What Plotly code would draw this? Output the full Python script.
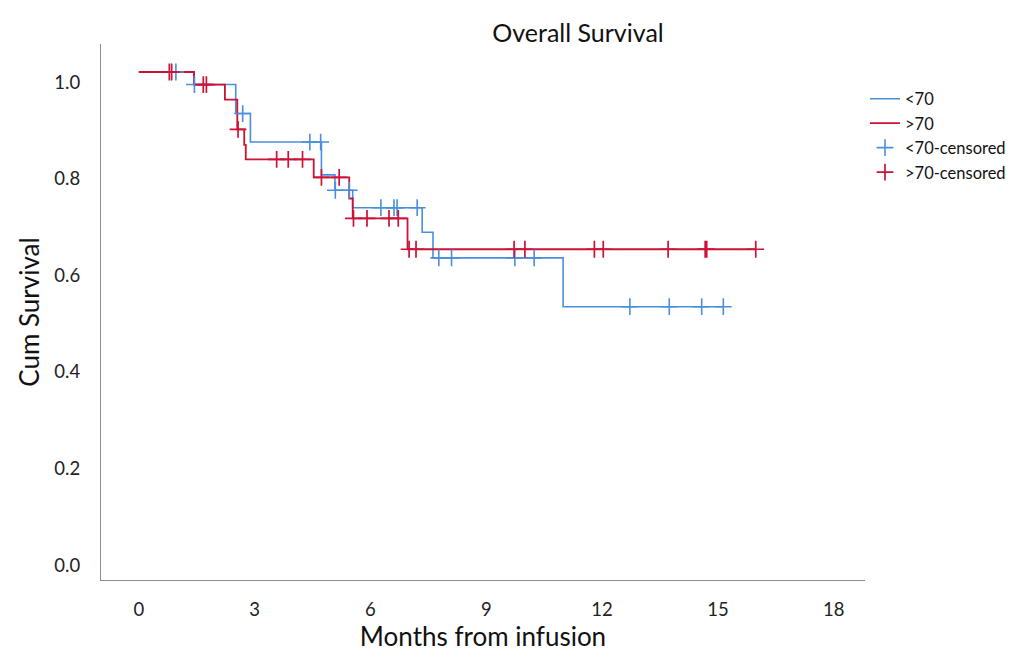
import numpy as np
import plotly.graph_objects as go

# ---- data ----
blue_name = "<70"
red_name = ">70"
blue_t = [0, 1.43, 2.51, 2.89, 4.73, 5.08, 5.54, 7.34, 7.62, 10.99, 15.14]
blue_s = [1.021, 0.995, 0.935, 0.876, 0.808, 0.776, 0.740, 0.689, 0.636, 0.535, 0.535]
blue_cens = [0.96, 1.44, 2.69, 4.43, 4.71, 5.09, 5.45, 6.27, 6.61, 6.69, 7.21,
             7.77, 8.10, 9.74, 10.24, 12.72, 13.74, 14.58, 15.14]

red_t = [0, 1.43, 2.23, 2.55, 2.73, 2.77, 4.53, 5.45, 5.54, 6.96, 15.98]
red_s = [1.021, 0.995, 0.964, 0.902, 0.870, 0.840, 0.803, 0.759, 0.718, 0.654, 0.654]
red_cens = [0.79, 0.85, 1.67, 1.75, 2.57, 3.57, 3.87, 4.24, 4.73, 5.19, 5.56, 5.91,
            6.48, 6.72, 7.00, 7.18, 9.72, 10.00, 11.80, 12.03, 13.71, 14.67, 14.71, 15.98]

x_ticks = [0, 3, 6, 9, 12, 15, 18]
y_ticks = [0.0, 0.2, 0.4, 0.6, 0.8, 1.0]
y_tick_labels = ["0.0", "0.2", "0.4", "0.6", "0.8", "1.0"]

BLUE = "#4a8fdc"
RED = "#cc1236"
FONT = "Lato"

W, H = 1008, 655  # page body has an 8px margin


def surv_at(times, surv, t):
    idx = np.searchsorted(np.array(times), t, side="right") - 1
    return [surv[i] for i in idx]


fig = go.Figure()
fig.add_trace(go.Scatter(x=blue_t, y=blue_s, mode="lines", line_shape="hv",
                         line=dict(color=BLUE, width=1.6), name=blue_name))
fig.add_trace(go.Scatter(x=red_t, y=red_s, mode="lines", line_shape="hv",
                         line=dict(color=RED, width=1.8), name=red_name))
fig.add_trace(go.Scatter(x=blue_cens, y=surv_at(blue_t, blue_s, blue_cens), mode="markers",
                         marker=dict(symbol="cross-thin", size=12,
                                     line=dict(color=BLUE, width=1.6)),
                         name=blue_name + "-censored"))
fig.add_trace(go.Scatter(x=red_cens, y=surv_at(red_t, red_s, red_cens), mode="markers",
                         marker=dict(symbol="cross-thin", size=12,
                                     line=dict(color=RED, width=1.7)),
                         name=red_name + "-censored"))

fig.update_layout(
    width=W, height=H,
    paper_bgcolor="white", plot_bgcolor="white",
    margin=dict(l=93, r=151, t=36, b=83, autoexpand=False),
    font=dict(family=FONT, color="#222"),
    title=dict(text="Overall Survival", x=570 / W, xanchor="center",
               y=1 - 25 / H, yanchor="middle", yref="container",
               font=dict(size=25, color="#111", family=FONT)),
    showlegend=True,
    legend=dict(x=1.0, y=0.93, xanchor="left", yanchor="top",
                font=dict(size=16.5, color="#111", family=FONT),
                bgcolor="rgba(0,0,0,0)", tracegroupgap=0, itemwidth=30),
    xaxis=dict(range=[-0.98, 18.81], tickvals=x_ticks, showgrid=False, zeroline=False,
               showline=True, linecolor="#8c8c8c", linewidth=1.3,
               ticks="outside", ticklen=13, tickcolor="rgba(0,0,0,0)",
               tickfont=dict(size=18.5, color="#222", family=FONT),
               title=dict(text="Months from infusion", standoff=7,
                          font=dict(size=26, color="#111", family=FONT))),
    yaxis=dict(range=[-0.031, 1.079], tickvals=y_ticks, ticktext=y_tick_labels,
               showgrid=False, zeroline=False,
               showline=True, linecolor="#8c8c8c", linewidth=1.3,
               ticks="outside", ticklen=16, tickcolor="rgba(0,0,0,0)",
               tickfont=dict(size=18.5, color="#222", family=FONT),
               title=dict(text="Cum Survival", standoff=7,
                          font=dict(size=26, color="#111", family=FONT))),
)

fig.write_html("out.html")
